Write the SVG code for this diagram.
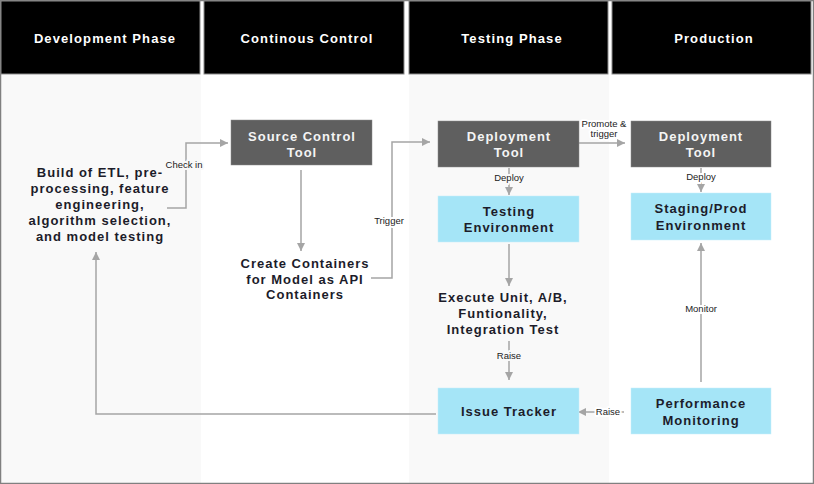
<svg xmlns="http://www.w3.org/2000/svg" width="814" height="484" viewBox="0 0 814 484">
<defs>
<style>
.hdr{fill:#000;stroke:#8a8a8a;stroke-width:1}
.htx{font-family:"Liberation Sans",Arial,sans-serif;font-size:13px;font-weight:bold;fill:#fff;letter-spacing:1.1px;text-anchor:middle}
.dark{fill:#5f5f5f;stroke:#8a8a8a;stroke-width:0.5}
.blue{fill:#a5e5f7;stroke:#c8eefa;stroke-width:0.5}
.wt{font-family:"Liberation Sans",Arial,sans-serif;font-size:13px;font-weight:bold;fill:#f4f4f4;letter-spacing:1px;text-anchor:middle}
.bt{font-family:"Liberation Sans",Arial,sans-serif;font-size:13px;font-weight:bold;fill:#1c1c2a;letter-spacing:1px;text-anchor:middle}
.ln{fill:none;stroke:#a5a5a5;stroke-width:1.5}
.lbl{font-family:"Liberation Sans",Arial,sans-serif;font-size:9.5px;fill:#222;text-anchor:middle;paint-order:stroke;stroke-width:4px;stroke-linejoin:round}
.lg{stroke:#f9f9f9}
.lw{stroke:#fff}
</style>
<marker id="ah" markerUnits="userSpaceOnUse" markerWidth="10" markerHeight="10" refX="8" refY="4" orient="auto">
<path d="M0,0 L8,4 L0,8 Z" fill="#a5a5a5"/>
</marker>
</defs>
<rect x="0" y="0" width="814" height="484" fill="#fff"/>
<rect x="1" y="75" width="200" height="408" fill="#f9f9f9"/>
<rect x="409" y="75" width="200" height="408" fill="#f9f9f9"/>
<rect x="0.5" y="0.5" width="813" height="483" fill="none" stroke="#808080" stroke-width="1.5"/>

<g id="headers">
<g id="h-dev"><rect class="hdr" x="1" y="1" width="199" height="73"/><text class="htx" x="105" y="43">Development Phase</text></g>
<g id="h-cc"><rect class="hdr" x="204" y="1" width="200" height="73"/><text class="htx" x="307" y="43">Continous Control</text></g>
<g id="h-test"><rect class="hdr" x="409" y="1" width="199" height="73"/><text class="htx" x="512" y="43">Testing Phase</text></g>
<g id="h-prod"><rect class="hdr" x="612" y="1" width="199" height="73"/><text class="htx" x="714" y="43">Production</text></g>
</g>

<g id="connectors">
<path class="ln" d="M167,208 H186 V143 H228" marker-end="url(#ah)"/>
<path class="ln" d="M301,170 V251" marker-end="url(#ah)"/>
<path class="ln" d="M371,278 H392 V142 H430" marker-end="url(#ah)"/>
<path class="ln" d="M575,143 H625" marker-end="url(#ah)"/>
<path class="ln" d="M509,168 V195" marker-end="url(#ah)"/>
<path class="ln" d="M701,168 V192" marker-end="url(#ah)"/>
<path class="ln" d="M509,244 V286" marker-end="url(#ah)"/>
<path class="ln" d="M509,341 V380" marker-end="url(#ah)"/>
<path class="ln" d="M624,412 H578" marker-end="url(#ah)"/>
<path class="ln" d="M701,382 V243" marker-end="url(#ah)"/>
<path class="ln" d="M436,414 H96 V252" marker-end="url(#ah)"/>
<text class="lbl lg" x="184" y="168">Check in</text>
<text class="lbl lw" x="389" y="224">Trigger</text>
<text class="lbl lw" x="604" y="127">Promote &amp;</text>
<text class="lbl lw" x="604" y="137">trigger</text>
<text class="lbl lg" x="509" y="181">Deploy</text>
<text class="lbl lw" x="701" y="180">Deploy</text>
<text class="lbl lg" x="509" y="359">Raise</text>
<text class="lbl lw" x="608" y="415">Raise</text>
<text class="lbl lw" x="701" y="312">Monitor</text>
</g>

<g id="build"><text class="bt" x="100" y="177">Build of ETL, pre-</text><text class="bt" x="100" y="193">processing, feature</text><text class="bt" x="100" y="209">engineering,</text><text class="bt" x="100" y="225">algorithm selection,</text><text class="bt" x="100" y="241">and model testing</text></g>
<g id="source-control"><rect class="dark" x="231" y="120" width="141" height="45"/><text class="wt" x="302" y="141">Source Control</text><text class="wt" x="302" y="157">Tool</text></g>
<g id="containers"><text class="bt" x="305" y="268">Create Containers</text><text class="bt" x="305" y="284">for Model as API</text><text class="bt" x="305" y="299">Containers</text></g>
<g id="deploy-test"><rect class="dark" x="438" y="121" width="141" height="46"/><text class="wt" x="509" y="141">Deployment</text><text class="wt" x="509" y="157">Tool</text></g>
<g id="testing-env"><rect class="blue" x="438" y="196" width="141" height="46"/><text class="bt" x="509" y="216">Testing</text><text class="bt" x="509" y="232">Environment</text></g>
<g id="execute"><text class="bt" x="503" y="302">Execute Unit, A/B,</text><text class="bt" x="503" y="318">Funtionality,</text><text class="bt" x="503" y="334">Integration Test</text></g>
<g id="issue-tracker"><rect class="blue" x="438" y="388" width="141" height="46"/><text class="bt" x="509" y="416">Issue Tracker</text></g>
<g id="deploy-prod"><rect class="dark" x="631" y="121" width="140" height="46"/><text class="wt" x="701" y="141">Deployment</text><text class="wt" x="701" y="157">Tool</text></g>
<g id="staging"><rect class="blue" x="631" y="193" width="140" height="47"/><text class="bt" x="701" y="213">Staging/Prod</text><text class="bt" x="701" y="230">Environment</text></g>
<g id="perf"><rect class="blue" x="631" y="388" width="140" height="46"/><text class="bt" x="701" y="408">Performance</text><text class="bt" x="701" y="425">Monitoring</text></g>
</svg>
